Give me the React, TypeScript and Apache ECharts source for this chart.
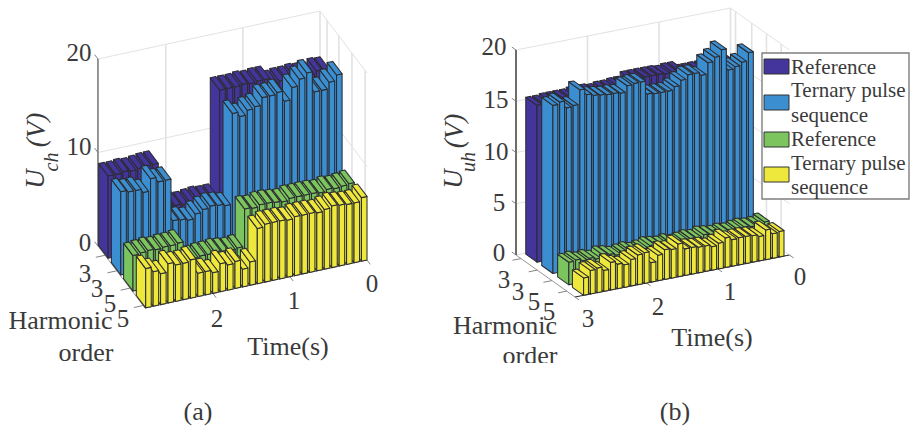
import React, { useEffect, useRef } from "react";
import * as echarts from "echarts";

const harmonicLabels = ["3", "3", "5", "5"];
const seriesNames = ["Reference", "Ternary pulse sequence", "Reference", "Ternary pulse sequence"];

// Bar heights in volts, listed from the longest time (left) to time 0 (right)
const aReference3 = [8.8,8.8,8.9,8.8,8.9,9.0,9.0, 4.0,4.1,4.1,4.0,4.1,4.2,4.1,4.1, 15.4,15.4,15.4,15.5,15.4,15.5,15.5,14.9,15.0,15.0,15.1,15.0,14.9,15.2,15.1];
const aTernary3 = [8.9,8.7,8.7,8.3,9.6,9.1,9.1, 4.6,4.5,4.3,4.8,5.1,5.3,5.2,5.0, 14.7,14.2,14.7,14.9,15.7,15.7,15.9,14.8,16.1,16.8,17.3,15.1,15.1,15.8,16.4];
const aReference5 = [3.8,3.9,4.0,3.9,4.0,4.0,4.1, 2.1,2.1,2.2,2.2,2.3,2.2,2.1,2.2, 6.2,6.1,6.3,6.3,6.2,6.1,6.3,6.3,6.3,6.3,6.2,6.4,6.3,6.4,6.5];
const aTernary5 = [4.2,3.7,3.3,4.2,3.9,3.9,4.1, 2.5,2.5,2.2,3.0,2.7,2.9,1.9,2.5, 5.9,6.2,6.2,6.2,6.1,6.3,6.3,6.3,6.2,6.4,6.6,6.5,6.4,6.4,6.8];

const bReference3 = [15.3,15.3,15.4,15.4,15.4,15.4,15.5,15.5,15.5,15.4,15.5,15.5,15.6,15.6,16.0,16.0,16.0,16.0,16.0,15.9,16.0,16.0,15.6,15.6,15.6,15.6,15.5,15.6,15.6,15.6];
const bTernary3 = [16.4,16.6,15.9,16.0,17.4,16.8,16.6,16.5,16.4,16.4,16.3,16.9,17.0,17.0,15.7,15.6,15.6,15.6,15.9,16.4,16.8,16.8,16.5,17.6,18.0,18.6,16.5,16.7,17.0,17.8];
const bReference5 = [2.2,2.3,2.1,2.2,2.0,2.3,2.2,2.0,2.1,2.2,2.0,2.1,2.3,2.2,2.1,2.2,2.0,2.1,2.2,2.1,2.3,2.2,2.1,2.2,2.1,2.2,2.3,2.2,2.2,2.4];
const bTernary5 = [1.7,2.3,2.4,2.05,2.7,2.4,2.2,2.6,2.9,3.0,1.9,2.5,2.9,2.8,3.2,2.6,2.6,2.5,2.5,2.3,2.5,2.9,2.6,2.65,2.65,2.6,2.4,2.9,2.4,2.5];

const aValueTicks = [0, 10, 20];
const bValueTicks = [0, 5, 10, 15, 20];
const aTimeTicks = [0, 1, 2];
const bTimeTicks = [0, 1, 2, 3];

const COLORS = ["#44359c", "#3b8ed0", "#7bc45e", "#efe83c"];
const EDGE = "#2c2c30";
const TEXT = "#3a3a3a";
const SERIF = '"Liberation Serif", serif';

type View = {
  ox: number; oy: number; tx: number; ty: number; ux: number; uy: number; vz: number;
  tMax: number; zMax: number; rows: number[]; depth: number; t0: number; step: number; barW: number;
  harmonicU: number[]; valueTicks: number[]; timeTicks: number[]; axis: string;
};

const viewA: View = {
  ox: 320, oy: 198, tx: -77.1, ty: 16.67, ux: 47, uy: 62, vz: 9.35,
  tMax: 2.88, zMax: 20, rows: [0, 0.27, 0.53, 0.8], depth: 0.2, t0: 0, step: 0.0965, barW: 0.072,
  harmonicU: [0.15, 0.4, 0.68, 0.96], valueTicks: aValueTicks, timeTicks: aTimeTicks, axis: "#6a6a6a",
};
const viewB: View = {
  ox: 730.5, oy: 213, tx: -71.5, ty: 14, ux: 59, uy: 42, vz: 10.25,
  tMax: 3, zMax: 20, rows: [0.02, 0.29, 0.56, 0.81], depth: 0.19, t0: 0.077, step: 0.0943, barW: 0.068,
  harmonicU: [0.085, 0.36, 0.61, 0.86], valueTicks: bValueTicks, timeTicks: bTimeTicks, axis: "#2c2c2c",
};

const project = (v: View, t: number, u: number, h: number) => [
  v.ox + v.tx * t + v.ux * u,
  v.oy + v.ty * t + v.uy * u - v.vz * h,
];

function barSeries(view: View, row: number, values: number[]) {
  const n = values.length;
  // painted from time 0 towards the viewer
  const data = values.map((h, j) => [j, h]).reverse();
  return {
    type: "custom",
    silent: true,
    coordinateSystem: "cartesian2d",
    clip: false,
    z: 2 + row,
    data,
    renderItem: (_: any, api: any) => {
      const j = api.value(0);
      const h = api.value(1);
      const tLow = view.t0 + (n - 1 - j) * view.step;
      const tHigh = tLow + view.barW;
      const uBack = view.rows[row];
      const uFront = uBack + view.depth;
      const P = (t: number, u: number, z: number) => api.coord(project(view, t, u, z));
      const style = { fill: COLORS[row], stroke: EDGE, lineWidth: 1.05, lineJoin: "round" };
      const poly = (points: number[][]) => ({ type: "polygon", shape: { points }, style });
      return {
        type: "group",
        children: [
          poly([P(tHigh, uFront, 0), P(tHigh, uBack, 0), P(tHigh, uBack, h), P(tHigh, uFront, h)]),
          poly([P(tLow, uFront, 0), P(tHigh, uFront, 0), P(tHigh, uFront, h), P(tLow, uFront, h)]),
          poly([P(tLow, uBack, h), P(tHigh, uBack, h), P(tHigh, uFront, h), P(tLow, uFront, h)]),
        ],
      };
    },
  };
}

function frameSeries(view: View) {
  return {
    type: "custom",
    silent: true,
    coordinateSystem: "cartesian2d",
    clip: false,
    z: 1,
    data: [[0, 0]],
    renderItem: (_: any, api: any) => {
      const P = (t: number, u: number, z: number) => api.coord(project(view, t, u, z));
      const seg = (a: number[], b: number[], stroke: string, lineWidth: number) => ({
        type: "line",
        shape: { x1: a[0], y1: a[1], x2: b[0], y2: b[1] },
        style: { stroke, lineWidth },
      });
      const grid = "#e2e2e2";
      const kids: any[] = [];
      const { tMax, zMax } = view;
      view.valueTicks.forEach((z) => {
        kids.push(seg(P(tMax, 0, z), P(0, 0, z), grid, 1));
        kids.push(seg(P(0, 0, z), P(0, 1, z), grid, 1));
      });
      view.timeTicks.concat([tMax]).forEach((t) => {
        kids.push(seg(P(t, 0, 0), P(t, 0, zMax), grid, 1.6));
      });
      view.harmonicU.forEach((u) => {
        kids.push(seg(P(0, u, 0), P(0, u, zMax), grid, 1.6));
      });
      // axes
      kids.push(seg(P(tMax, 0, 0), P(tMax, 0, zMax), view.axis, 1.3));
      kids.push(seg(P(tMax, 0, 0), P(tMax, 1, 0), "#8a8a8a", 0.9));
      kids.push(seg(P(tMax, 1, 0), P(0, 1, 0), view.axis, 1.1));
      view.valueTicks.forEach((z) => {
        kids.push(seg(P(tMax, 0, z), P(tMax, -0.07, z), "#777", 0.9));
      });
      view.harmonicU.forEach((u) => {
        kids.push(seg(P(tMax, u, 0), P(tMax + 0.12, u, 0), "#777", 0.9));
      });
      view.timeTicks.forEach((t) => {
        kids.push(seg(P(t, 1, 0), P(t, 1.07, 0), "#777", 0.9));
      });
      return { type: "group", children: kids };
    },
  };
}

const text = (s: string, x: number, y: number, size: number, extra: any = {}) => {
  const { italic, rotation, align, ...rest } = extra;
  return {
    type: "text",
    x,
    y,
    rotation: rotation || 0,
    z: 20,
    style: {
      text: s,
      fill: TEXT,
      font: `${italic ? "italic " : ""}${size}px ${SERIF}`,
      align: align || "center",
      verticalAlign: "middle",
      ...rest,
    },
  };
};

const UP = Math.PI / 2;

function labels() {
  const tick = 25;
  const title = 26;
  const axisTitle = 27;
  const aValuePos = [[85, 242], [79, 146], [79, 52]];
  const aHarmonicPos = [[85, 273], [97, 288], [110, 303], [123, 318]];
  const aTimePos = [[372, 283], [294, 300], [217, 318]];
  const bValuePos = [[499, 252], [499, 202], [496, 151], [496, 99], [494, 46]];
  const bHarmonicPos = [[504, 279], [518, 291], [534, 301], [549, 311]];
  const bTimePos = [[800, 276], [730, 291], [658, 306], [588, 318]];
  const out: any[] = [];
  aValueTicks.forEach((v, i) => out.push(text(String(v), aValuePos[i][0], aValuePos[i][1], tick)));
  harmonicLabels.forEach((v, i) => out.push(text(v, aHarmonicPos[i][0], aHarmonicPos[i][1], tick)));
  aTimeTicks.forEach((v, i) => out.push(text(String(v), aTimePos[i][0], aTimePos[i][1], tick)));
  bValueTicks.forEach((v, i) => out.push(text(String(v), bValuePos[i][0], bValuePos[i][1], tick)));
  harmonicLabels.forEach((v, i) => out.push(text(v, bHarmonicPos[i][0], bHarmonicPos[i][1], tick)));
  bTimeTicks.forEach((v, i) => out.push(text(String(v), bTimePos[i][0], bTimePos[i][1], tick)));

  out.push(text("U", 35, 179, axisTitle, { italic: true, rotation: UP }));
  out.push(text("ch", 51, 162, 20, { italic: true, rotation: UP }));
  out.push(text("(V)", 36, 130, axisTitle, { italic: true, rotation: UP }));
  out.push(text("U", 453, 179, axisTitle, { italic: true, rotation: UP }));
  out.push(text("uh", 468, 162, 20, { italic: true, rotation: UP }));
  out.push(text("(V)", 454, 131, axisTitle, { italic: true, rotation: UP }));

  out.push(text("Harmonic", 60.5, 320, title));
  out.push(text("order", 86, 352, title));
  out.push(text("Time(s)", 288, 346, title));
  out.push(text("(a)", 198, 411, title));

  out.push(text("Harmonic", 505, 325, title));
  out.push(text("order", 530, 355, title));
  out.push({ type: "rect", z: 21, shape: { x: 490, y: 363, width: 90, height: 20 }, style: { fill: "#fff" } });
  out.push(text("Time(s)", 712, 337, title));
  out.push(text("(b)", 675, 411, title));

  // legend
  out.push({ type: "rect", z: 30, shape: { x: 762, y: 53, width: 147, height: 146 }, style: { fill: "#fff", stroke: "#7f7f7f", lineWidth: 1.4 } });
  const swatchY = [59, 95, 132, 167];
  swatchY.forEach((y, i) => {
    out.push({ type: "rect", z: 31, shape: { x: 764, y, width: 25, height: 15 }, style: { fill: COLORS[i], stroke: "#333", lineWidth: 1 } });
  });
  const legendLines = [
    [seriesNames[0], 67],
    [seriesNames[1].split(" sequence")[0], 90],
    ["sequence", 115],
    [seriesNames[2], 139],
    [seriesNames[3].split(" sequence")[0], 163],
    ["sequence", 187],
  ] as [string, number][];
  legendLines.forEach(([s, y]) => {
    const el = text(s, 791, y, 21, { align: "left" });
    el.z = 31;
    out.push(el);
  });
  return out;
}

export default function App() {
  const ref = useRef<HTMLDivElement>(null);
  useEffect(() => {
    const chart = echarts.init(ref.current!, undefined, { renderer: "svg" });
    chart.setOption({
      animation: false,
      backgroundColor: "#fff",
      grid: { left: 0, top: 0, width: 912, height: 427, containLabel: false },
      xAxis: { type: "value", min: 0, max: 912, show: false },
      yAxis: { type: "value", min: 0, max: 427, inverse: true, show: false },
      graphic: { elements: labels() },
      series: [
        frameSeries(viewA),
        barSeries(viewA, 0, aReference3),
        barSeries(viewA, 1, aTernary3),
        barSeries(viewA, 2, aReference5),
        barSeries(viewA, 3, aTernary5),
        frameSeries(viewB),
        barSeries(viewB, 0, bReference3),
        barSeries(viewB, 1, bTernary3),
        barSeries(viewB, 2, bReference5),
        barSeries(viewB, 3, bTernary5),
      ],
    });
    return () => chart.dispose();
  }, []);
  return <div ref={ref} style={{ width: 912, height: 427, position: "absolute", left: 0, top: 0 }} />;
}
